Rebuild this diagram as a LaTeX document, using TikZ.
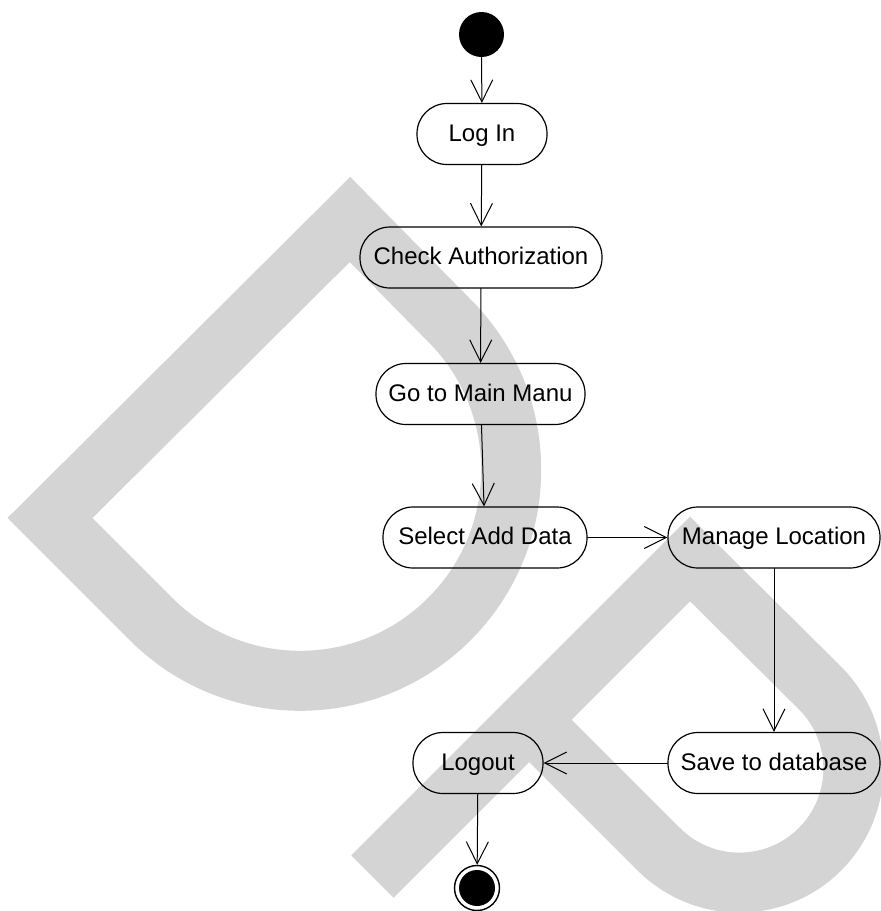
\documentclass[tikz,border=0pt]{standalone}
\usepackage{fontspec}
\setmainfont{Liberation Sans}
\usepackage{tikz}
\usetikzlibrary{arrows.meta}
\definecolor{wmgray}{RGB}{212,212,212}

\begin{document}
\begin{tikzpicture}[line cap=round,line join=round, x=0.5pt,y=-0.5pt,
  wmark/.style={draw=wmgray, line width=30pt, line cap=butt, line join=miter},
  activity/.style={draw, rectangle, rounded corners=15pt, minimum height=30.5pt, inner sep=0pt, text height=8.6pt, text depth=1.4pt, line width=0.6pt, font=\fontsize{12}{14}\selectfont},
  initial/.style={circle, fill=black, inner sep=0pt, minimum size=22.5pt},
  final/.style={circle, draw, line width=0.7pt, inner sep=0pt, minimum size=22.5pt, path picture={\fill (path picture bounding box.center) circle (9pt);}},
  flow/.style={-{Straight Barb[length=11pt, width=11pt]}, line width=0.5pt}]
\useasboundingbox (0,0) rectangle (880,911);
\draw [wmark] (350,219.5) -- (50,518) -- (151,619) arc[start angle=135, end angle=-45, radius=211] -- cycle;
\draw [wmark] (372.5,876.5) -- (690,559) -- (820,688) arc[start angle=-45, end angle=135, radius=114] -- (529,719.5);
\node [initial] (start) at (481.5,34.5) {};
\node [activity, minimum width=65pt] (login) at (482,134) {Log In};
\node [activity, minimum width=121pt] (auth) at (481,257.5) {Check Authorization};
\node [activity, minimum width=104.5pt] (mainmenu) at (480.5,394) {Go to Main Manu};
\node [activity, minimum width=102pt] (adddata) at (485,537.5) {Select Add Data};
\node [activity, minimum width=106pt] (location) at (774,537.5) {Manage Location};
\node [activity, minimum width=106pt] (savedb) at (774,763) {Save to database};
\node [activity, minimum width=65pt] (logout) at (478,763) {Logout};
\node [final] (finish) at (477,888) {};
\draw [flow] (start) -- (login);
\draw [flow] (login) -- (auth);
\draw [flow] (auth) -- (mainmenu);
\draw [flow] (mainmenu) -- (adddata);
\draw [flow] (adddata) -- (location);
\draw [flow] (location) -- (savedb);
\draw [flow] (savedb) -- (logout);
\draw [flow] (logout) -- (finish);
\end{tikzpicture}
\end{document}
